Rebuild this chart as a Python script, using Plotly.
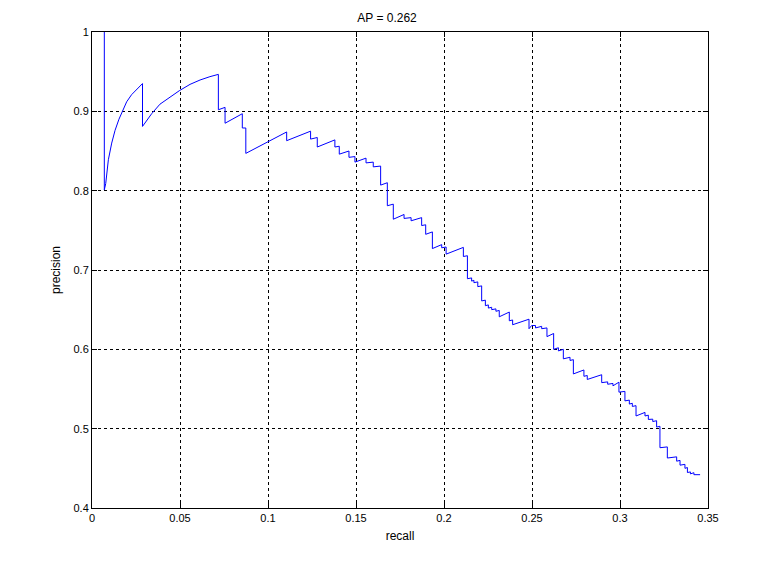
import plotly.graph_objects as go

recall = [
    0.0070, 0.0070, 0.0078, 0.0093, 0.0112, 0.0131, 0.0153, 0.0169, 0.0197, 0.0225,
    0.0254, 0.0287, 0.0287, 0.0311, 0.0339, 0.0386, 0.0443, 0.0496, 0.0557, 0.0614,
    0.0670, 0.0718, 0.0718, 0.0756, 0.0756, 0.0854, 0.0854, 0.0874, 0.0874, 0.0917,
    0.0955, 0.0996, 0.1049, 0.1106, 0.1106,
    0.1242, 0.1242, 0.1280, 0.1280, 0.1380, 0.1380, 0.1405, 0.1405, 0.1460,
    0.1460, 0.1494, 0.1494, 0.1557, 0.1557, 0.1598, 0.1598, 0.1640, 0.1640, 0.1678,
    0.1678, 0.1712, 0.1712, 0.1773, 0.1773, 0.1813, 0.1813, 0.1873, 0.1873, 0.1896,
    0.1896, 0.1934, 0.1934, 0.1987, 0.1987, 0.2012, 0.2012, 0.2110, 0.2110, 0.2133,
    0.2133, 0.2157, 0.2157, 0.2170, 0.2170, 0.2192, 0.2192, 0.2214, 0.2214, 0.2235,
    0.2235, 0.2252, 0.2252, 0.2271, 0.2271, 0.2295, 0.2295, 0.2314, 0.2314, 0.2371,
    0.2371, 0.2390, 0.2390, 0.2483, 0.2483, 0.2498, 0.2520, 0.2520, 0.2555, 0.2555,
    0.2585, 0.2585, 0.2623, 0.2623, 0.2650, 0.2650, 0.2678, 0.2678, 0.2716, 0.2716,
    0.2735, 0.2735, 0.2795, 0.2795, 0.2814, 0.2814, 0.2896, 0.2896, 0.2930, 0.2930,
    0.2960, 0.2960, 0.2994, 0.2994, 0.3028, 0.3028, 0.3053, 0.3053, 0.3070, 0.3070,
    0.3091, 0.3091, 0.3142, 0.3142, 0.3161, 0.3161, 0.3186, 0.3186, 0.3208, 0.3208,
    0.3227, 0.3227, 0.3269, 0.3269, 0.3322, 0.3322, 0.3341, 0.3341, 0.3369, 0.3369,
    0.3383, 0.3383, 0.3400, 0.3400, 0.3420, 0.3420, 0.3455,
]
precision = [
    1.000, 0.801, 0.809, 0.839, 0.860, 0.876, 0.890, 0.898, 0.912, 0.921,
    0.928, 0.935, 0.881, 0.889, 0.897, 0.909, 0.918, 0.926, 0.934, 0.9395,
    0.9437, 0.9466, 0.902, 0.905, 0.885, 0.897, 0.879, 0.879, 0.847, 0.852,
    0.857, 0.862, 0.868, 0.874, 0.863,
    0.875, 0.865, 0.867, 0.855, 0.864, 0.855, 0.856, 0.846, 0.850,
    0.842, 0.843, 0.836, 0.841, 0.835, 0.836, 0.830, 0.831, 0.807, 0.810,
    0.781, 0.783, 0.764, 0.770, 0.765, 0.766, 0.762, 0.766, 0.756, 0.757,
    0.745, 0.748, 0.727, 0.732, 0.728, 0.729, 0.720, 0.7285, 0.717, 0.718,
    0.689, 0.690, 0.686, 0.687, 0.684, 0.685, 0.679, 0.680, 0.661, 0.662,
    0.655, 0.656, 0.652, 0.653, 0.650, 0.651, 0.648, 0.649, 0.641, 0.647,
    0.636, 0.637, 0.631, 0.638, 0.626, 0.630, 0.630, 0.627, 0.629, 0.626,
    0.627, 0.616, 0.620, 0.600, 0.602, 0.598, 0.600, 0.588, 0.590, 0.586,
    0.587, 0.569, 0.574, 0.566, 0.567, 0.562, 0.568, 0.558, 0.559, 0.556,
    0.557, 0.554, 0.5586, 0.546, 0.547, 0.535, 0.536, 0.531, 0.532, 0.528,
    0.529, 0.516, 0.5205, 0.516, 0.517, 0.5116, 0.512, 0.509, 0.510, 0.502,
    0.503, 0.476, 0.477, 0.463, 0.4645, 0.459, 0.460, 0.454, 0.455, 0.450,
    0.451, 0.4447, 0.4455, 0.443, 0.4445, 0.442, 0.442,
]

x_ticks = [0, 0.05, 0.1, 0.15, 0.2, 0.25, 0.3, 0.35]
x_tick_labels = ["0", "0.05", "0.1", "0.15", "0.2", "0.25", "0.3", "0.35"]
y_ticks = [0.4, 0.5, 0.6, 0.7, 0.8, 0.9, 1.0]
y_tick_labels = ["0.4", "0.5", "0.6", "0.7", "0.8", "0.9", "1"]

fig = go.Figure()
fig.add_trace(go.Scatter(x=recall, y=precision, mode="lines",
                         line=dict(color="#0000ff", width=1), showlegend=False,
                         hoverinfo="x+y"))

axis_common = dict(
    showline=True, linecolor="black", linewidth=1, mirror="ticks",
    ticks="inside", ticklen=5, tickcolor="black", tickwidth=1,
    showgrid=True, gridcolor="black", gridwidth=1, griddash="3px,3px",
    zeroline=False, tickfont=dict(family="Liberation Sans, Arial", size=11, color="black"),
    title_font=dict(family="Liberation Sans, Arial", size=12, color="black"),
)

W, H = 758, 548
fig.update_layout(
    width=W, height=H,
    margin=dict(l=84, r=58, t=24, b=48),
    paper_bgcolor="white", plot_bgcolor="white",
    title=dict(text="AP = 0.262", x=0.5, xanchor="center", y=1 - 10/H, yanchor="middle",
               font=dict(family="Liberation Sans, Arial", size=12, color="black")),
    xaxis=dict(range=[0, 0.35], tickvals=x_ticks, ticktext=x_tick_labels,
               title=dict(text="recall", standoff=8), **axis_common),
    yaxis=dict(range=[0.4, 1.0], tickvals=y_ticks, ticktext=y_tick_labels,
               title=dict(text="precision", standoff=10), **axis_common),
)

fig.write_html("out.html")
